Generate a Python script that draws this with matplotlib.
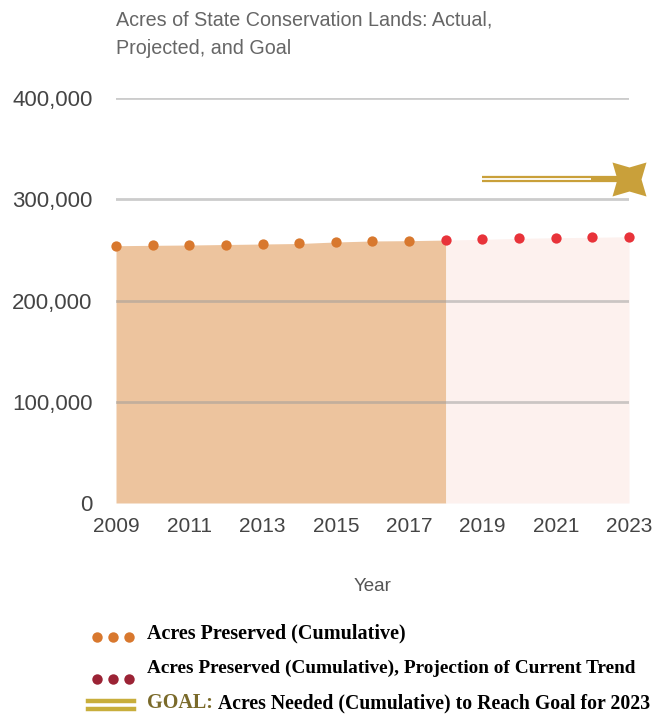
import matplotlib
matplotlib.use("Agg")
import matplotlib.pyplot as plt
from matplotlib.ticker import FuncFormatter
from matplotlib.lines import Line2D

# Data
years_actual = [2009, 2010, 2011, 2012, 2013, 2014, 2015, 2016, 2017, 2018]
acres_actual = [254100, 254500, 254800, 255300, 255800, 256300, 257800, 258800, 259100, 259700]
years_proj = [2018, 2019, 2020, 2021, 2022, 2023]
acres_proj = [259700, 260400, 261400, 262000, 262400, 263000]
years_goal = [2019, 2023]
acres_goal = [320000, 320000]
x_ticks = [2009, 2011, 2013, 2015, 2017, 2019, 2021, 2023]
y_ticks = [0, 100000, 200000, 300000, 400000]

legend_labels = [
    "Acres Preserved (Cumulative)",
    "Acres Preserved (Cumulative), Projection of Current Trend",
    "Acres Needed (Cumulative) to Reach Goal for 2023",
]

C_AREA = "#EDC49E"
C_ACT = "#D8782E"
C_PROJ_AREA = "#FDF1EE"
C_PROJ = "#E8333A"
C_GOAL = "#C9A03A"
C_TEXT = "#444444"

plt.rcParams["font.family"] = ["Liberation Sans", "DejaVu Sans"]

W, H = 655, 719
fig = plt.figure(figsize=(W / 100, H / 100), dpi=100)
ax = fig.add_axes([116 / W, 1 - 503 / H, 513 / W, 405 / H])

ax.set_xlim(2009, 2023)
ax.set_ylim(0, 400000)

# filled areas
ax.fill_between(years_actual, acres_actual, 0, color=C_AREA, lw=0, zorder=1)
ax.fill_between(years_proj, acres_proj, 0, color=C_PROJ_AREA, lw=0, zorder=1)

# gridlines drawn over the areas
for v in y_ticks[1:]:
    ax.axhline(v, color="#9a9a9a", alpha=0.5, lw=2, zorder=2)

# points
ax.scatter(years_actual[:-1], acres_actual[:-1], s=55, color=C_ACT, zorder=4, clip_on=False, lw=0)
ax.scatter(years_proj, acres_proj, s=55, color=C_PROJ, zorder=4, clip_on=False, lw=0)

# goal: double gold line ending in a star
ax.plot(years_goal, acres_goal, color=C_GOAL, lw=4.5, zorder=3, solid_capstyle="butt")
ax.plot([years_goal[0], 2021.95], acres_goal, color="white", lw=1.3, zorder=3,
        solid_capstyle="butt")
ax.scatter([years_goal[-1]], [acres_goal[-1]], marker=(4, 1, 45), s=1200, color=C_GOAL,
           zorder=5, clip_on=False, lw=0)

for s in ax.spines.values():
    s.set_visible(False)
ax.tick_params(length=0)
ax.set_xticks(x_ticks)
ax.set_yticks(y_ticks)
ax.yaxis.set_major_formatter(FuncFormatter(lambda v, p: f"{int(v):,}"))
ax.tick_params(axis="y", pad=17, labelsize=16, labelcolor=C_TEXT)
ax.tick_params(axis="x", pad=10, labelsize=15, labelcolor=C_TEXT)
ax.set_xlabel("Year", fontsize=13.5, color="#555555", labelpad=30)

fig.text(116 / W, 1 - 20 / H, "Acres of State Conservation Lands: Actual,",
         fontsize=14.2, color="#666666", va="center", ha="left")
fig.text(116 / W, 1 - 48 / H, "Projected, and Goal",
         fontsize=14.2, color="#666666", va="center", ha="left")

# legend drawn below the plot
serif = ["Liberation Serif", "DejaVu Serif"]
text_rows = [633, 668, 703]
marker_rows = [637, 679, 705]
label_sizes = [14.5, 13.9, 14.2]
for i, (ty, my) in enumerate(zip(text_rows, marker_rows)):
    tyf = 1 - ty / H
    myf = 1 - my / H
    if i < 2:
        col = C_ACT if i == 0 else "#9B2335"
        fig.add_artist(Line2D([97 / W, 113 / W, 129 / W], [myf, myf, myf],
                              transform=fig.transFigure, ls="none", marker="o", ms=7.5,
                              color=col, mec="none"))
    else:
        for dy in (-4, 4):
            fig.add_artist(Line2D([88 / W, 134 / W], [myf + dy / H, myf + dy / H],
                                  transform=fig.transFigure, color="#C8AE3C", lw=3.2))
    if i < 2:
        fig.text(147 / W, tyf, legend_labels[i], fontsize=label_sizes[i], fontweight="bold",
                 family=serif, va="center", ha="left", color="black")
    else:
        t = fig.text(147 / W, tyf, "GOAL:", fontsize=14.5, fontweight="bold",
                     family=serif, va="center", ha="left", color="#7A6A2A")
        fig.canvas.draw()
        bb = t.get_window_extent()
        fig.text((bb.x1 + 5) / W, tyf, legend_labels[2], fontsize=label_sizes[i],
                 fontweight="bold", family=serif, va="center", ha="left", color="black")

fig.savefig("out.png", dpi=100)
